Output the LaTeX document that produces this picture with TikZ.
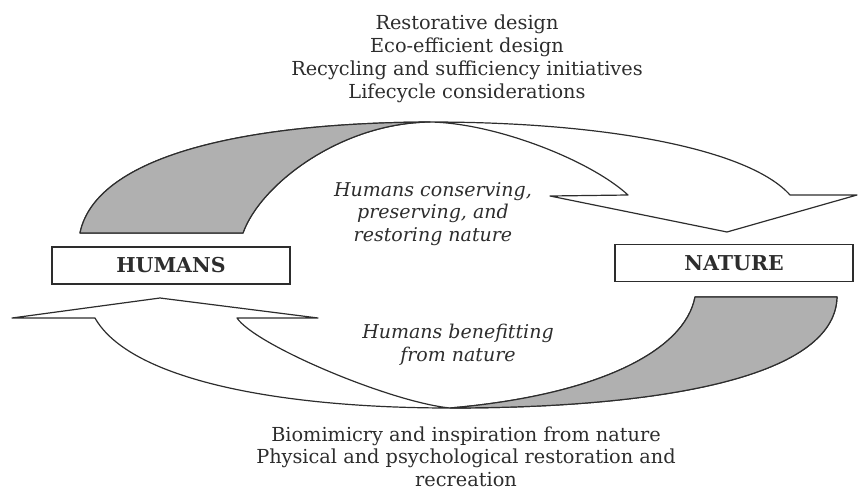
\documentclass[tikz,border=0pt]{standalone}
\usepackage{fontspec}
\setmainfont{DejaVu Serif}
\definecolor{ink}{RGB}{45,45,45}
\definecolor{shade}{RGB}{176,176,176}
\tikzset{
  outline/.style={draw=ink, line width=1.2pt, line join=round},
  underside/.style={fill=shade, draw=ink, line width=1.2pt, line join=round},
  agentbox/.style={draw=ink, line width=1.2pt, fill=white, minimum width=238pt,
    minimum height=37pt, inner sep=0pt, text=ink,
    font=\fontsize{20.5}{24}\selectfont\bfseries},
  listtext/.style={align=center, inner sep=0pt, text=ink,
    font=\fontsize{19.3}{23}\selectfont},
  flowtext/.style={align=center, inner sep=0pt, text=ink,
    font=\fontsize{19}{22.5}\selectfont\itshape},
}
\begin{document}
\begin{tikzpicture}[x=1pt, y=-1pt]
  \useasboundingbox (0,0) rectangle (860,490);

  % upper ribbon arrow: HUMANS -> NATURE
  \draw[outline]
    (80,233) -- (243,233)
    .. controls (260,185) and (340,123) .. (430,122)
    .. controls (495,123) and (590,160) .. (628,195)
    -- (550,196) -- (727,232) -- (857,195) -- (790,195)
    .. controls (750,150) and (610,122) .. (430,122)
    .. controls (230,123) and (95,160) .. (80,233) -- cycle;
  \draw[underside]
    (80,233) -- (243,233)
    .. controls (260,185) and (340,123) .. (430,122)
    .. controls (230,123) and (95,160) .. (80,233) -- cycle;

  % lower ribbon arrow: NATURE -> HUMANS
  \draw[outline]
    (837,297) -- (695,297)
    .. controls (685,350) and (600,395) .. (450,408)
    .. controls (390,402) and (255,345) .. (237,318)
    -- (318,318) -- (160,298) -- (12,318) -- (95,318)
    .. controls (130,380) and (280,408) .. (450,408)
    .. controls (650,408) and (835,380) .. (837,297) -- cycle;
  \draw[underside]
    (837,297) -- (695,297)
    .. controls (685,350) and (600,395) .. (450,408)
    .. controls (650,408) and (835,380) .. (837,297) -- cycle;

  % the two parties
  \node[agentbox] (humans) at (171,265.5) {HUMANS};
  \node[agentbox] (nature) at (734,263) {NATURE};

  % flow descriptions
  \node[flowtext] (conserve) at (433,214)
    {Humans conserving,\\ preserving, and\\ restoring nature};
  \node[flowtext] (benefit) at (458,345)
    {Humans benefitting\\ from nature};

  % examples of each flow
  \node[listtext] (designs) at (467,59)
    {Restorative design\\ Eco-efficient design\\
     Recycling and sufficiency initiatives\\ Lifecycle considerations};
  \node[listtext, font=\fontsize{19.3}{22.5}\selectfont] (benefits) at (466,456.5)
    {Biomimicry and inspiration from nature\\
     Physical and psychological restoration and\\ recreation};
\end{tikzpicture}
\end{document}
